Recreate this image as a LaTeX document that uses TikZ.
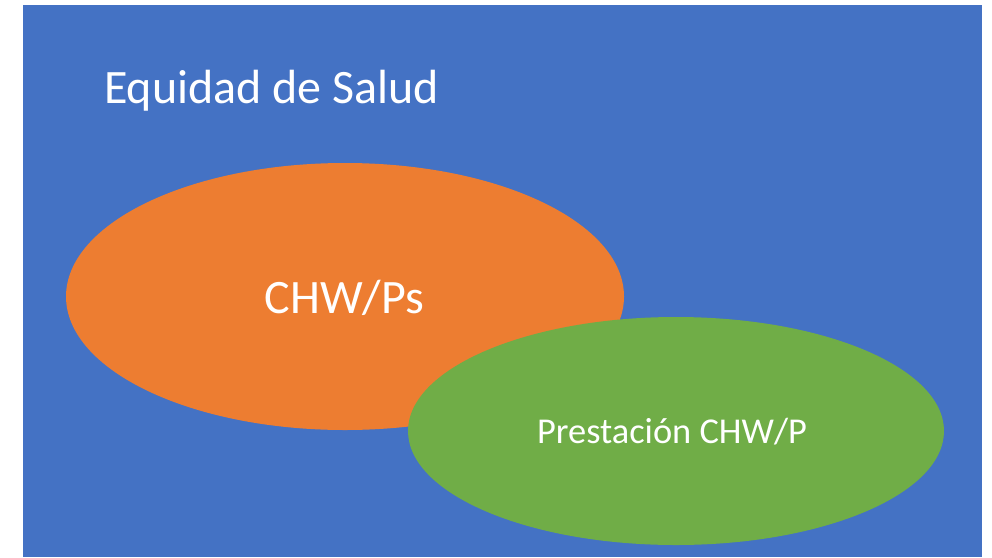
\documentclass[tikz,border=0pt]{standalone}
\usepackage{fontspec}
\setmainfont{Carlito}
\definecolor{bgblue}{HTML}{4472C4}
\definecolor{orng}{HTML}{ED7D31}
\definecolor{grn}{HTML}{70AD47}
\begin{document}
\begin{tikzpicture}[x=1pt,y=-1pt,
  lbl/.style={text=white,inner sep=0pt}]
\useasboundingbox (0,0) rectangle (992,557);
\fill[bgblue] (23,5) rectangle (982,557);
\fill[orng] (345,296.5) ellipse [x radius=279, y radius=133.5];
\fill[grn] (676,431) ellipse [x radius=268, y radius=114];
\node[lbl,anchor=base west,font=\fontsize{48}{58}\selectfont] (title) at (104,103) {Equidad de Salud};
\node[lbl,font=\fontsize{48}{58}\selectfont] (chw) at (344.5,298) {CHW/Ps};
\node[lbl,font=\fontsize{36.4}{44}\selectfont] (prest) at (672,432) {Prestación CHW/P};
\end{tikzpicture}
\end{document}
